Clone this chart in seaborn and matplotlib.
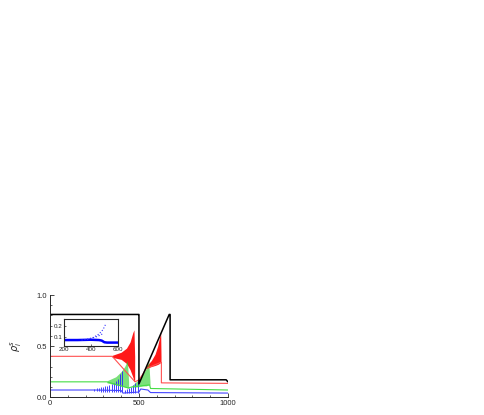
import matplotlib
matplotlib.use('Agg')
import matplotlib.pyplot as plt
import seaborn as sns
import pandas as pd

# main traces (steady parts)
black_x = [0, 495, 500, 500, 670, 675, 675, 990, 1000]
black_y = [0.81, 0.81, 0.81, 0.13, 0.81, 0.81, 0.17, 0.17, 0.15]

red_x = [0, 350, 478, 500, 520, 540, 622, 626, 626, 1000]
red_y = [0.40, 0.40, 0.15, 0.17, 0.22, 0.28, 0.34, 0.34, 0.14, 0.135]

green_x = [0, 320, 440, 460, 560, 565, 1000]
green_y = [0.15, 0.15, 0.09, 0.10, 0.12, 0.085, 0.07]

blue_x = [0, 250, 400, 410, 500, 510, 550, 565, 1000]
blue_y = [0.07, 0.07, 0.065, 0.04, 0.05, 0.08, 0.07, 0.045, 0.04]

# oscillation envelopes
red1_x = [350, 400, 430, 450, 465, 472, 476]
red1_hi = [0.41, 0.44, 0.48, 0.54, 0.63, 0.66, 0.40]
red1_lo = [0.39, 0.37, 0.33, 0.27, 0.20, 0.16, 0.15]
red2_x = [540, 570, 590, 605, 615, 622, 624]
red2_hi = [0.30, 0.36, 0.42, 0.50, 0.58, 0.64, 0.40]
red2_lo = [0.28, 0.30, 0.31, 0.32, 0.33, 0.34, 0.34]

green1_x = [320, 370, 400, 420, 435, 442]
green1_hi = [0.16, 0.20, 0.25, 0.30, 0.36, 0.15]
green1_lo = [0.14, 0.12, 0.11, 0.10, 0.09, 0.09]
green2_x = [460, 490, 520, 540, 555, 562]
green2_hi = [0.11, 0.16, 0.22, 0.28, 0.35, 0.15]
green2_lo = [0.10, 0.10, 0.11, 0.11, 0.12, 0.12]

# blue spikes
spike_x = [250, 262, 274, 286, 298, 310, 322, 334, 346, 358, 370, 382, 394, 404,
           420, 432, 444, 456, 468, 480, 492]
spike_top = [0.08, 0.085, 0.09, 0.095, 0.10, 0.105, 0.11, 0.12, 0.13, 0.14, 0.155, 0.18, 0.23, 0.26,
             0.07, 0.08, 0.09, 0.10, 0.12, 0.14, 0.17]
spike_bot = [0.06, 0.06, 0.06, 0.055, 0.055, 0.055, 0.05, 0.05, 0.05, 0.05, 0.05, 0.05, 0.05, 0.05,
             0.04, 0.04, 0.04, 0.04, 0.045, 0.045, 0.045]

# inset data
in_x = [200, 300, 400, 460, 480, 500, 520, 600]
in_y = [0.075, 0.075, 0.078, 0.075, 0.07, 0.055, 0.052, 0.052]
in_up_x = [370, 420, 460, 490, 510]
in_up_y = [0.08, 0.10, 0.13, 0.17, 0.22]
in_lo_x = [330, 380, 430, 470, 490]
in_lo_y = [0.075, 0.085, 0.10, 0.12, 0.135]

sns.set_style('ticks')
plt.rcParams['font.family'] = ['Liberation Sans', 'DejaVu Sans']

fig = plt.figure(figsize=(4.85, 4.15), dpi=100)
ax = fig.add_axes([0.103, 0.043, 0.367, 0.246])

ax.fill_between(red1_x, red1_lo, red1_hi, color='#ff0000', lw=0, alpha=0.9)
ax.fill_between(red2_x, red2_lo, red2_hi, color='#ff0000', lw=0, alpha=0.9)
ax.fill_between(green1_x, green1_lo, green1_hi, color='#22cc22', lw=0, alpha=0.6)
ax.fill_between(green2_x, green2_lo, green2_hi, color='#22cc22', lw=0, alpha=0.6)
ax.vlines(spike_x, spike_bot, spike_top, color='#2222ff', lw=0.6)

for xs, ys, c, lw in [(red_x, red_y, '#ff5050', 0.8), (green_x, green_y, '#44dd44', 0.8),
                      (blue_x, blue_y, '#4444ff', 0.8), (black_x, black_y, 'black', 1.1)]:
    df = pd.DataFrame({'t': xs, 'v': ys})
    sns.lineplot(data=df, x='t', y='v', sort=False, estimator=None, color=c, lw=lw, ax=ax)

ax.set_xlim(0, 1000)
ax.set_ylim(0, 1.0)
ax.set_xticks([0, 500, 1000])
ax.set_yticks([0.0, 0.5, 1.0])
ax.set_yticklabels(['0.0', '0.5', '1.0'])
ax.set_xticks(range(0, 1001, 100), minor=True)
ax.set_yticks([i / 10 for i in range(11)], minor=True)
ax.tick_params(direction='in', labelsize=5.5, length=3, width=0.6, pad=2)
ax.tick_params(which='minor', direction='in', length=1.5, width=0.5)
ax.set_xlabel('')
ax.set_ylabel(r'$\rho_i^s$', fontsize=7, labelpad=9)
sns.despine(ax=ax)
for s in ['left', 'bottom']:
    ax.spines[s].set_linewidth(0.7)

# inset
axi = fig.add_axes([0.132, 0.166, 0.111, 0.065])
sns.lineplot(x=in_x, y=in_y, color='#0000ff', lw=1.8, ax=axi)
axi.plot(in_up_x, in_up_y, ls=':', color='#3333ff', lw=0.8)
axi.plot(in_lo_x, in_lo_y, ls=':', color='#3333ff', lw=0.8)
axi.set_xlim(200, 600)
axi.set_ylim(0.02, 0.265)
axi.set_xticks([200, 400, 600])
axi.set_yticks([0.1, 0.2])
axi.set_yticklabels(['0.1', '0.2'])
axi.tick_params(direction='in', labelsize=4.5, length=1.5, width=0.5, pad=1)
for s in axi.spines.values():
    s.set_linewidth(0.8)

fig.savefig('out.png', dpi=100)
